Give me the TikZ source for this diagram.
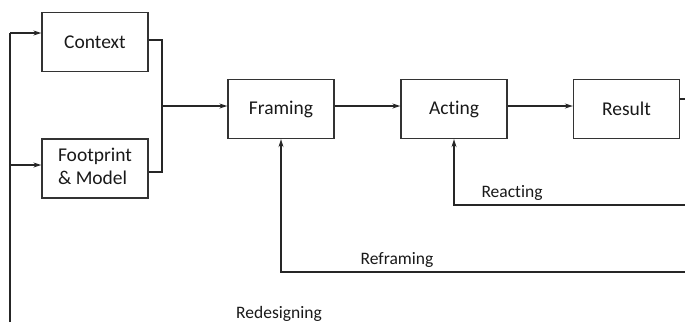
\documentclass[tikz,border=0pt]{standalone}
\usepackage{fontspec}
\setmainfont[Ligatures=NoCommon]{Carlito}
\usepackage{tikz}
\usetikzlibrary{arrows.meta}

\begin{document}
\begin{tikzpicture}[x=1pt, y=-1pt]
    \tikzstyle{box}=[rectangle, draw=black!80, line width=1.3pt, minimum width=106pt, minimum height=59pt, inner sep=0pt, text=black!90, font=\fontsize{19.5}{23}\selectfont]
    \tikzstyle{lbl}=[text=black!90, font=\fontsize{17.5}{20}\selectfont, inner sep=0pt]
    \tikzstyle{arr}=[-{Stealth[length=8pt, width=5pt]}]
    \tikzstyle{wire}=[draw=black!85, line width=1.3pt]

    \useasboundingbox (0,0) rectangle (685,322);

    \node[box] (context) at (95,42) {Context};
    \node[box] (footprint) at (95,168.5) {\begin{tabular}{@{}l@{}}Footprint\\\& Model\end{tabular}};

    \foreach \name/\txt/\x in {framing/Framing/281, acting/Acting/454, result/Result/626.5} {
        \node[box] (\name) at (\x,109) {\txt};
    }

    % redesign loop on the left
    \coordinate (rdbot) at (10,322);
    \coordinate (rdtop) at (10,33);
    \coordinate (rdmid) at (10,165);
    \draw[wire] (rdbot) -- (rdtop);
    \draw[wire, arr] (rdtop) -- (context.west |- rdtop);
    \draw[wire, arr] (rdmid) -- (footprint.west |- rdmid);

    % merge into framing
    \coordinate (mtop) at (162,40);
    \coordinate (mbot) at (162,172);
    \coordinate (mmid) at (162,106);
    \draw[wire] (context.east |- mtop) -- (mtop) -- (mbot) -- (footprint.east |- mbot);
    \draw[wire, arr] (mmid) -- (framing.west |- mmid);

    \foreach \a/\b in {framing/acting, acting/result} {
        \draw[wire, arr] (\a.east |- mmid) -- (\b.west |- mmid);
    }

    \coordinate (rout) at (685,99);
    \draw[wire] (result.east |- rout) -- (rout);

    % feedback lines
    \coordinate (react) at (685,205);
    \coordinate (refr) at (685,272);
    \draw[wire, arr] (react) -- (acting.south |- react) -- (acting.south);
    \draw[wire, arr] (refr) -- (framing.south |- refr) -- (framing.south);

    \node[lbl] (reacting) at (512,193) {Reacting};
    \node[lbl] (reframing) at (397,260) {Reframing};
    \node[lbl] (redesigning) at (279,314) {Redesigning};
\end{tikzpicture}
\end{document}
